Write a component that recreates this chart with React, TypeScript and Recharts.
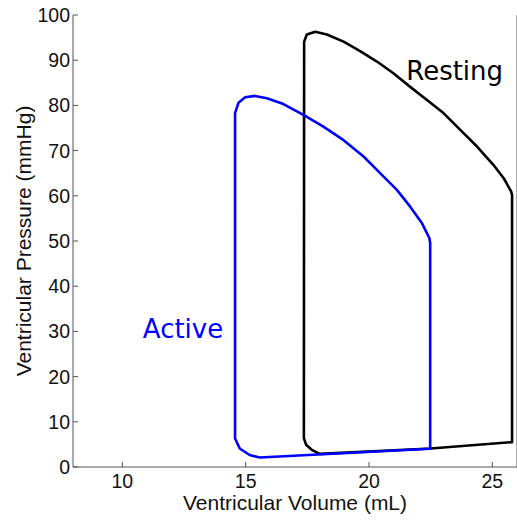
import {
  LineChart,
  Line,
  XAxis,
  YAxis,
  ReferenceDot,
} from "recharts";

// Pressure–volume loops
const restingVolume = [
  18.0, 22.5, 25.8, 25.8, 25.76, 25.46, 25.05, 24.38, 23.7, 23.02, 22.35, 21.67, 20.99, 20.32, 19.64,
  18.97, 18.29, 17.82, 17.48, 17.37, 17.36, 17.45, 17.68, 18.0,
];
const restingPressure = [
  2.9, 4.1, 5.5, 60.2, 61.0, 63.9, 66.8, 70.9, 74.6, 78.3, 81.2, 84.1, 87.1, 89.7, 92.0,
  94.1, 95.7, 96.3, 95.7, 94.1, 6.4, 4.9, 3.8, 2.9,
];

const activeVolume = [
  15.57, 22.48, 22.48, 22.45, 22.15, 21.67, 21.13, 20.45, 19.78, 18.97, 18.15, 17.34, 16.53, 15.86,
  15.38, 14.98, 14.71, 14.57, 14.57, 14.76, 15.16, 15.57,
];
const activePressure = [
  2.1, 4.05, 49.5, 50.6, 53.9, 57.6, 61.3, 65.0, 68.7, 72.3, 75.3, 77.9, 80.3, 81.6,
  82.1, 81.8, 80.6, 78.3, 6.3, 4.1, 2.65, 2.1,
];

const xTicks = [10, 15, 20, 25];
const yTicks = [0, 10, 20, 30, 40, 50, 60, 70, 80, 90, 100];

const restingData = restingVolume.map((v, i) => ({ v, p: restingPressure[i] }));
const activeData = activeVolume.map((v, i) => ({ v, p: activePressure[i] }));

const axisColor = "#555";
const tickFont = { fill: "#111", fontSize: 19.5, fontFamily: "Liberation Sans" };

function annotation(text: string, color: string) {
  return (props: any) => (
    <text
      x={props.cx}
      y={props.cy}
      fill={color}
      fontSize={26}
      fontFamily="DejaVu Sans"
      textAnchor="start"
    >
      {text}
    </text>
  );
}

export default function App() {
  return (
    <div style={{ position: "absolute", left: 0, top: 0, width: 517, height: 522, overflow: "hidden", background: "#fff" }}>
      <LineChart width={518} height={522} margin={{ top: 15, right: 0, left: 0, bottom: 0 }}>
        <XAxis
          type="number"
          dataKey="v"
          domain={[8, 26]}
          ticks={xTicks}
          allowDataOverflow
          height={55}
          stroke={axisColor}
          tick={tickFont}
          tickSize={-5}
          tickMargin={12}
          label={(props: any) => {
            const vb = props.viewBox;
            return (
              <text x={vb.x + vb.width / 2} y={510} textAnchor="middle" fontSize={21} fontFamily="Liberation Sans" fill="#111">
                Ventricular Volume (mL)
              </text>
            );
          }}
        />
        <XAxis
          xAxisId="top"
          orientation="top"
          type="number"
          domain={[8, 26]}
          ticks={xTicks}
          allowDataOverflow
          height={0}
          stroke={axisColor}
          tick={false}
          tickSize={-5}
        />
        <YAxis
          type="number"
          dataKey="p"
          domain={[0, 100]}
          ticks={yTicks}
          allowDataOverflow
          width={73}
          stroke={axisColor}
          tick={tickFont}
          tickSize={-5}
          tickMargin={8}
          label={(props: any) => {
            const vb = props.viewBox;
            const cy = vb.y + vb.height / 2;
            return (
              <text x={31} y={cy} transform={`rotate(-90, 31, ${cy})`} textAnchor="middle" fontSize={21} fontFamily="Liberation Sans" fill="#111">
                Ventricular Pressure (mmHg)
              </text>
            );
          }}
        />
        <YAxis
          yAxisId="right"
          orientation="right"
          type="number"
          domain={[0, 100]}
          ticks={yTicks}
          allowDataOverflow
          width={1}
          stroke={axisColor}
          tick={false}
          tickSize={-5}
        />
        <Line
          data={restingData}
          dataKey="p"
          type="linear"
          stroke="#000"
          strokeWidth={2.6}
          strokeLinejoin="round"
          dot={false}
          activeDot={false}
          isAnimationActive={false}
        />
        <Line
          data={activeData}
          dataKey="p"
          type="linear"
          stroke="#0000ff"
          strokeWidth={2.6}
          strokeLinejoin="round"
          dot={false}
          activeDot={false}
          isAnimationActive={false}
        />
        <ReferenceDot x={21.51} y={85.6} r={0} shape={annotation("Resting", "#000")} />
        <ReferenceDot x={10.83} y={28.5} r={0} shape={annotation("Active", "#0000ff")} />
      </LineChart>
    </div>
  );
}
